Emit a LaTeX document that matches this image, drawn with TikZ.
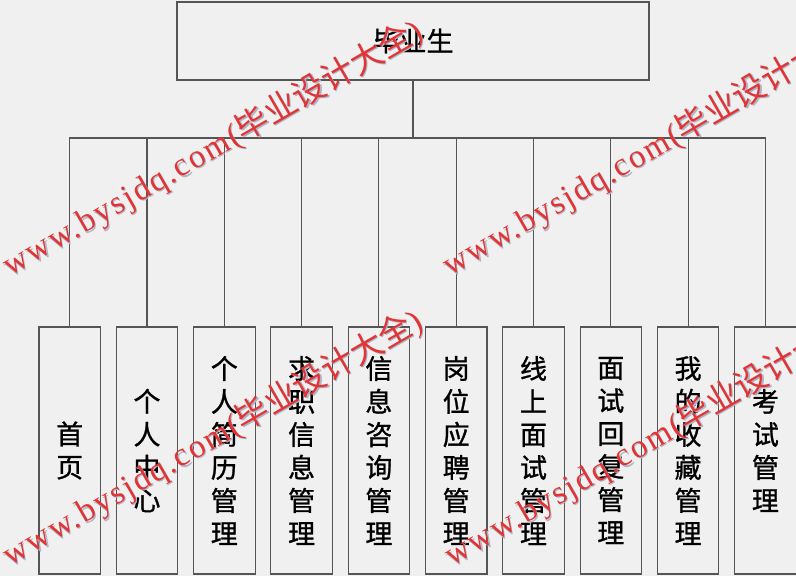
\documentclass[tikz,border=0pt]{standalone}
\usepackage{fontspec}
\newfontfamily\cjk{Noto Sans CJK SC}[FakeBold=1]
\newfontfamily\cjkmark{Noto Sans CJK SC}
\newfontfamily\wmfont{Liberation Serif}[LetterSpace=6]
\usetikzlibrary{positioning}
\definecolor{bgcol}{RGB}{240,240,240}
\definecolor{linecol}{RGB}{85,85,85}
\definecolor{markred}{RGB}{226,52,52}
\definecolor{markshade}{RGB}{175,180,198}
\newcommand{\wmtext}{{\wmfont www.bysjdq.com(}毕业设计大全{\wmfont )}}

\begin{document}
\begin{tikzpicture}[x=1pt,y=-1pt,node distance=14.7pt,line width=1.1pt]
\tikzset{
	root node/.style={rectangle,draw=linecol,fill=bgcol,minimum width=472pt,minimum height=78pt,font=\cjk\fontsize{27}{33}\selectfont},
	leaf node/.style={rectangle,draw=linecol,fill=bgcol,minimum width=61.5pt,minimum height=247pt,inner sep=0pt,align=center,font=\cjk\fontsize{27}{33}\selectfont},
	mark text/.style={font=\cjkmark\fontsize{33}{33}\selectfont,anchor=base west,rotate=30,inner sep=0pt}
}
\useasboundingbox (0,0) rectangle (796,576);
\clip (0,0) rectangle (796,576);
\fill[bgcol] (0,0) rectangle (796,576);

      \node[root node] (grad) at (413,41) {毕业生};
      \node[leaf node] (home) at (69.7,450.5) {首\\页};
      \node[leaf node] (profile) [right=of home] {个\\人\\中\\心};
      \node[leaf node] (resume) [right=of profile] {个\\人\\简\\历\\管\\理};
      \node[leaf node] (jobinfo) [right=of resume] {求\\职\\信\\息\\管\\理};
      \node[leaf node] (consult) [right=of jobinfo] {信\\息\\咨\\询\\管\\理};
      \node[leaf node] (apply) [right=of consult] {岗\\位\\应\\聘\\管\\理};
      \node[leaf node] (online) [right=of apply] {线\\上\\面\\试\\管\\理};
      \node[leaf node] (reply) [right=of online] {面\\试\\回\\复\\管\\理};
      \node[leaf node] (favor) [right=of reply] {我\\的\\收\\藏\\管\\理};
      \node[leaf node] (exam) [right=of favor] {考\\试\\管\\理};
      \coordinate (bus) at (413,138);

    \draw[linecol] (grad.south) -- (bus);
    \foreach \n in {home,profile,resume,jobinfo,consult,apply,online,reply,favor,exam}
      \draw[linecol] (bus) -| (\n.north);

    % watermark
    \foreach \px/\py [count=\i] in {10/277, 450/277, 10/567, 452/567} {
      \node[mark text,text=markshade] (shade\i) at (\px+1.3,\py+1.3) {\wmtext};
      \node[mark text,text=markred] (mark\i) at (\px,\py) {\wmtext};
    }
\end{tikzpicture}
\end{document}
